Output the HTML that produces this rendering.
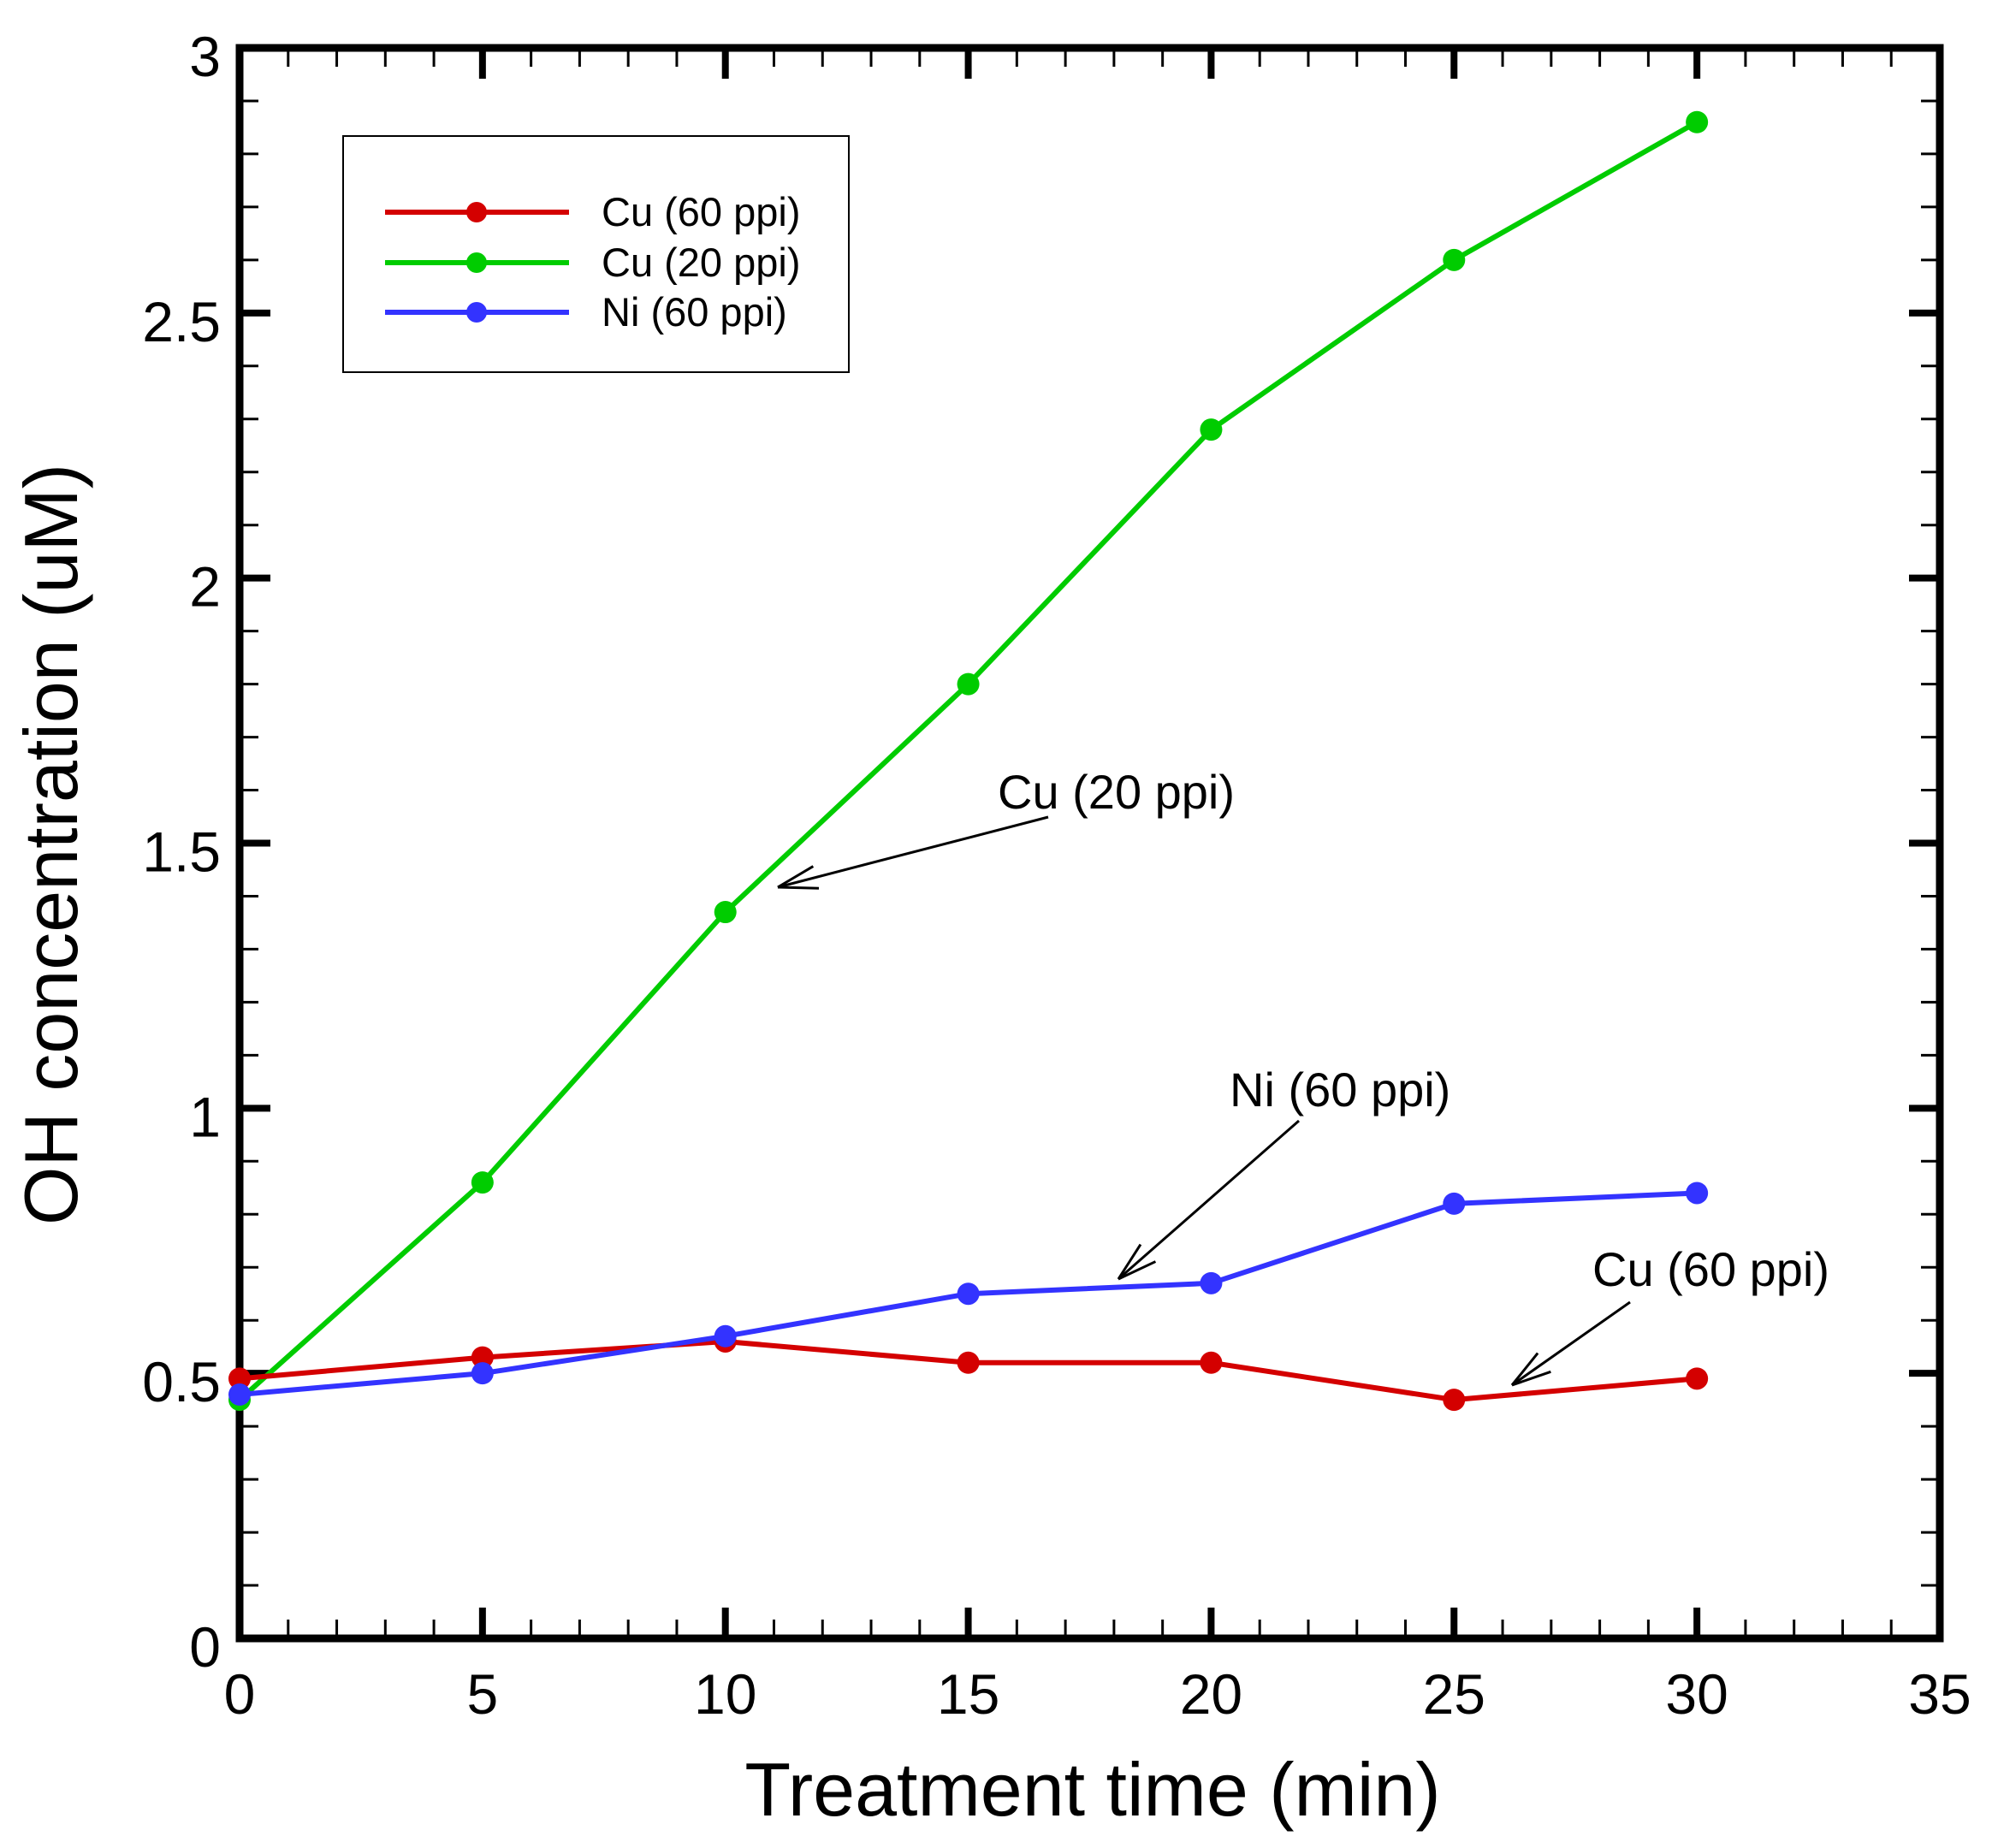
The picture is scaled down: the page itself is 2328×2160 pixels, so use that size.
<!DOCTYPE html>
<html><head><meta charset="utf-8"><style>body{margin:0;background:#fff}svg{display:block}text{font-family:"Liberation Sans",sans-serif}</style></head>
<body>
<svg id="chart" width="2328" height="2160" viewBox="0 0 2328 2160" xmlns="http://www.w3.org/2000/svg">
<g id="g"></g>
</svg>
<script>
const xTicks=[0,5,10,15,20,25,30,35];
const yTicks=[0,0.5,1,1.5,2,2.5,3];
const yTickLabels=["0","0.5","1","1.5","2","2.5","3"];
const times=[0,5,10,15,20,25,30];
const cu60=[0.49,0.53,0.56,0.52,0.52,0.45,0.49];
const cu20=[0.45,0.86,1.37,1.80,2.28,2.60,2.86];
const ni60=[0.46,0.50,0.57,0.65,0.67,0.82,0.84];
const seriesNames=["Cu (60 ppi)","Cu (20 ppi)","Ni (60 ppi)"];

const L=280,R=2267,T=56,B=1915;
const X=v=>L+(v/35)*(R-L);
const Y=v=>B-(v/3)*(B-T);
const g=document.getElementById('g');
const NS='http://www.w3.org/2000/svg';
function mk(tag,at,parent){const e=document.createElementNS(NS,tag);for(const k in at)e.setAttribute(k,at[k]);(parent||g).appendChild(e);return e;}

for(let i=0;i<=35;i++){
  const x=X(i),maj=i%5===0,len=maj?36:22,w=maj?8:3;
  let t=mk('line',{x1:x,y1:B,x2:x,y2:B-len,stroke:'#000','stroke-width':w});
  
  t=mk('line',{x1:x,y1:T,x2:x,y2:T+len,stroke:'#000','stroke-width':w});
  
}
for(let i=0;i<=30;i++){
  const y=Y(i/10),maj=i%5===0,len=maj?36:22,w=maj?8:3;
  let t=mk('line',{x1:L,y1:y,x2:L+len,y2:y,stroke:'#000','stroke-width':w});
  
  t=mk('line',{x1:R,y1:y,x2:R-len,y2:y,stroke:'#000','stroke-width':w});
  
}
const frame=mk('rect',{x:L,y:T,width:R-L,height:B-T,fill:'none',stroke:'#000','stroke-width':9});



xTicks.forEach(v=>{const t=mk('text',{x:X(v),y:B+88,'font-size':66,'text-anchor':'middle'});t.textContent=v;

});
yTicks.forEach((v,i)=>{const t=mk('text',{x:L-22,y:Y(v)+33,'font-size':66,'text-anchor':'end'});t.textContent=yTickLabels[i];

});

let xt=mk('text',{x:1277,y:2122,'font-size':88,'text-anchor':'middle'});xt.textContent='Treatment time (min)';


let yt=mk('text',{x:90,y:987,'font-size':88,'text-anchor':'middle',transform:'rotate(-90 90 987)'});yt.textContent='OH concentration (uM)';



const colors=['#d40000','#00cc00','#3333ff'];
const data=[cu60,cu20,ni60];
const slugs=['cu-60ppi','cu-20ppi','ni-60ppi'];
[1,0,2].forEach(s=>{
  const pts=times.map((t,i)=>X(t)+','+Y(data[s][i])).join(' ');
  const pl=mk('polyline',{points:pts,fill:'none',stroke:colors[s],'stroke-width':6});
  
  
  times.forEach((t,i)=>{const c=mk('circle',{cx:X(t),cy:Y(data[s][i]),r:13,fill:colors[s]});
    
    });
});

const lg=mk('g',{});


mk('rect',{x:401,y:159,width:591,height:276,fill:'#fff',stroke:'#000','stroke-width':2},lg);
[248,307,365].forEach((y,s)=>{
  const e=mk('g',{},lg);
  
  
  mk('line',{x1:450,y1:y,x2:665,y2:y,stroke:colors[s],'stroke-width':6},e);
  mk('circle',{cx:557,cy:y,r:12,fill:colors[s]},e);
  const t=mk('text',{x:703,y:y+16,'font-size':47},e);t.textContent=seriesNames[s];
});

function ann(name,tx,ty,label,x1,y1,x2,y2){
  const a=mk('g',{});
  
  
  const t=mk('text',{x:tx,y:ty,'font-size':56},a);t.textContent=label;
  mk('line',{x1,y1,x2,y2,stroke:'#000','stroke-width':3},a);
  const ang=Math.atan2(y1-y2,x1-x2),hl=48,sp=0.28;
  [ang+sp,ang-sp].forEach(q=>mk('line',{x1:x2,y1:y2,x2:x2+hl*Math.cos(q),y2:y2+hl*Math.sin(q),stroke:'#000','stroke-width':3},a));
}
ann('annotation-cu-20ppi',1166,945,'Cu (20 ppi)',1225,955,909,1037);
ann('annotation-ni-60ppi',1437,1293,'Ni (60 ppi)',1518,1310,1307,1495);
ann('annotation-cu-60ppi',1861,1503,'Cu (60 ppi)',1905,1522,1767,1619);
</script>
</body></html>
